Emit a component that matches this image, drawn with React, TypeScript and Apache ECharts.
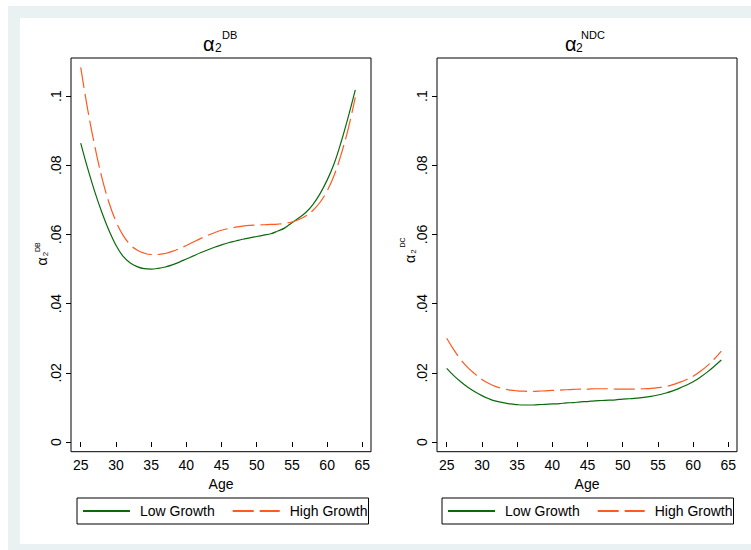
import React, { useEffect, useRef } from 'react';
import * as echarts from 'echarts';

const ages = [25, 26, 27, 28, 29, 30, 31, 32, 33, 34, 35, 36, 37, 38, 39, 40, 41, 42, 43, 44, 45, 46, 47, 48, 49, 50, 51, 52, 53, 54, 55, 56, 57, 58, 59, 60, 61, 62, 63, 64];

const dbLow = [0.0864, 0.0790, 0.0723, 0.0664, 0.0612, 0.0569, 0.0537, 0.0518, 0.0507, 0.0501, 0.0500, 0.0502, 0.0506, 0.0512, 0.0520, 0.0529, 0.0538, 0.0547, 0.0555, 0.0563, 0.0570, 0.0576, 0.0581, 0.0586, 0.0590, 0.0594, 0.0598, 0.0602, 0.0610, 0.0619, 0.0634, 0.0648, 0.0664, 0.0687, 0.0718, 0.0757, 0.0805, 0.0868, 0.0940, 0.1018];
const dbHigh = [0.1083, 0.0960, 0.0855, 0.0765, 0.0693, 0.0638, 0.0598, 0.0571, 0.0555, 0.0546, 0.0542, 0.0542, 0.0545, 0.0551, 0.0559, 0.0568, 0.0578, 0.0588, 0.0597, 0.0605, 0.0612, 0.0617, 0.0621, 0.0624, 0.0626, 0.0627, 0.0628, 0.0629, 0.0630, 0.0632, 0.0636, 0.0643, 0.0654, 0.0670, 0.0693, 0.0726, 0.0771, 0.0832, 0.0906, 0.0996];
const ndcLow = [0.0213, 0.0192, 0.0174, 0.0158, 0.0145, 0.0134, 0.0125, 0.0118, 0.0114, 0.0110, 0.0108, 0.0107, 0.0107, 0.0108, 0.0109, 0.0110, 0.0111, 0.0113, 0.0114, 0.0116, 0.0117, 0.0119, 0.0120, 0.0121, 0.0122, 0.0124, 0.0125, 0.0127, 0.0129, 0.0132, 0.0136, 0.0141, 0.0147, 0.0155, 0.0164, 0.0174, 0.0187, 0.0202, 0.0219, 0.0237];
const ndcHigh = [0.0300, 0.0267, 0.0238, 0.0215, 0.0197, 0.0181, 0.0169, 0.0160, 0.0154, 0.0150, 0.0148, 0.0147, 0.0146, 0.0147, 0.0148, 0.0149, 0.0150, 0.0151, 0.0152, 0.0153, 0.0153, 0.0154, 0.0154, 0.0154, 0.0153, 0.0153, 0.0153, 0.0153, 0.0154, 0.0155, 0.0157, 0.0160, 0.0165, 0.0172, 0.0180, 0.0190, 0.0204, 0.0220, 0.0240, 0.0263];

const xTicks = [25, 30, 35, 40, 45, 50, 55, 60, 65];
const yTicks = [0, 0.02, 0.04, 0.06, 0.08, 0.1];
const seriesNames = ['Low Growth', 'High Growth'];
const xTitle = 'Age';

const FONT = '"Liberation Sans", Arial, Helvetica, sans-serif';
const GREEN = '#0b6b0b';
const ORANGE = '#ff5a1f';

const pairs = (ys: number[]) => ages.map((a, i) => [a, ys[i]]);

function xAxisDef(gridIndex: number) {
  return {
    type: 'value', gridIndex, min: 23.62, max: 66.23,
    name: xTitle, nameLocation: 'middle', nameGap: 21,
    nameTextStyle: { fontFamily: FONT, fontSize: 14, color: '#000' },
    axisLine: { show: false },
    axisTick: { show: true, length: 5, customValues: xTicks, lineStyle: { color: '#000', width: 1 } },
    axisLabel: { customValues: xTicks, margin: 6, fontFamily: FONT, fontSize: 14, color: '#000' },
    splitLine: { show: false },
  };
}

function yAxisDef(gridIndex: number) {
  return {
    type: 'value', gridIndex, min: -0.0028, max: 0.111,
    axisLine: { show: false },
    axisTick: { show: true, length: 5, customValues: yTicks, lineStyle: { color: '#000', width: 1 } },
    axisLabel: {
      customValues: yTicks, rotate: 90, margin: 8, fontFamily: FONT, fontSize: 14, color: '#000',
      formatter: (v: number) => (v === 0 ? '0' : String(v).replace(/^0/, '')),
    },
    splitLine: { show: false },
  };
}

function lineSeries(name: string, data: number[], idx: number, dashed: boolean) {
  return {
    type: 'line', name, xAxisIndex: idx, yAxisIndex: idx, data: pairs(data),
    symbol: 'none', smooth: 0.4,
    lineStyle: { color: dashed ? ORANGE : GREEN, width: 1.2, type: dashed ? [21, 6] : 'solid' },
    itemStyle: { color: dashed ? ORANGE : GREEN },
  };
}

function legendDef(left: number) {
  return {
    left, top: 498, orient: 'horizontal', data: seriesNames,
    borderColor: '#000', borderWidth: 1, borderRadius: 0,
    padding: [6, 1, 6, 5], itemWidth: 47, itemHeight: 14, itemGap: 17,
    itemStyle: { opacity: 0, borderWidth: 0 },
    textStyle: { fontFamily: FONT, fontSize: 14, color: '#000', padding: [0, 0, 0, 5] },
    selectedMode: false,
  };
}

function titleGraphic(xA: number, x2: number, xSup: number, sup: string) {
  return [
    { type: 'text', x: xA, y: 44, style: { text: 'α', fontFamily: FONT, fontSize: 20, fill: '#000', align: 'left', verticalAlign: 'middle' } },
    { type: 'text', x: x2, y: 48, style: { text: '2', fontFamily: FONT, fontSize: 12, fill: '#000', align: 'left', verticalAlign: 'middle' } },
    { type: 'text', x: xSup, y: 34.5, style: { text: sup, fontFamily: FONT, fontSize: 11, fill: '#000', align: 'left', verticalAlign: 'middle' } },
  ];
}

function yTitleGraphic(x: number, y: number, sup: string, supOff: number[]) {
  return {
    type: 'group', x, y, rotation: Math.PI / 2,
    children: [
      { type: 'text', x: 0, y: -1, style: { text: 'α', fontFamily: FONT, fontSize: 14, fill: '#000', align: 'center', verticalAlign: 'middle' } },
      { type: 'text', x: 7.5, y: 2.5, style: { text: '2', fontFamily: FONT, fontSize: 8, fill: '#000', align: 'center', verticalAlign: 'middle' } },
      { type: 'text', x: supOff[0], y: supOff[1], style: { text: sup, fontFamily: FONT, fontSize: 7, fill: '#000', align: 'center', verticalAlign: 'middle' } },
    ],
  };
}

export default function App() {
  const ref = useRef<HTMLDivElement>(null);
  useEffect(() => {
    if (!ref.current) return;
    const chart = echarts.init(ref.current, null, { renderer: 'svg' });
    chart.setOption({
      animation: false,
      grid: [
        { left: 71, top: 58, width: 300, height: 393.7, show: true, borderColor: '#000', borderWidth: 1, backgroundColor: 'transparent' },
        { left: 437, top: 58, width: 300, height: 393.7, show: true, borderColor: '#000', borderWidth: 1, backgroundColor: 'transparent' },
      ],
      xAxis: [xAxisDef(0), xAxisDef(1)],
      yAxis: [yAxisDef(0), yAxisDef(1)],
      legend: [legendDef(77), legendDef(442)],
      series: [
        lineSeries(seriesNames[0], dbLow, 0, false),
        lineSeries(seriesNames[1], dbHigh, 0, true),
        lineSeries(seriesNames[0], ndcLow, 1, false),
        lineSeries(seriesNames[1], ndcHigh, 1, true),
      ],
      graphic: [
        ...titleGraphic(203, 215, 222, 'DB'),
        ...titleGraphic(565, 576, 581, 'NDC'),
        yTitleGraphic(43.3, 261.5, 'DB', [14.3, -6.1]),
        yTitleGraphic(411, 259, 'DC', [16.5, -8.5]),
      ],
    });
    return () => chart.dispose();
  }, []);
  return (
    <div style={{ position: 'fixed', left: 0, top: 0, width: 751, height: 550, background: '#ffffff', overflow: 'hidden' }}>
      <div style={{ position: 'absolute', left: 8, top: 6, width: 760, height: 560, background: '#e9f1f3' }} />
      <div style={{ position: 'absolute', left: 20, top: 18, width: 760, height: 526, background: '#ffffff' }} />
      <div ref={ref} style={{ position: 'absolute', left: 0, top: 0, width: 751, height: 550 }} />
    </div>
  );
}
